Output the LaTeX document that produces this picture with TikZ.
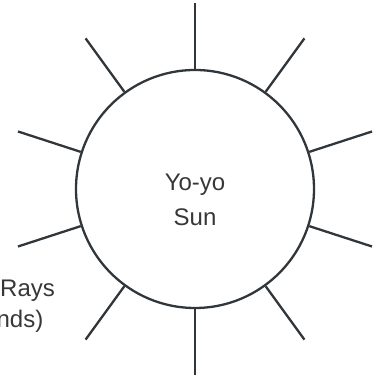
\documentclass[tikz,border=0pt]{standalone}
\usepackage{fontspec}
\setmainfont{Liberation Sans}
\definecolor{inkline}{RGB}{48,54,58}
\definecolor{inktext}{RGB}{55,55,55}
\tikzset{
  sunbody/.style={circle, draw=inkline, line width=2.3pt, minimum size=238pt, inner sep=0pt},
  ray/.style={draw=inkline, line width=2.3pt},
  handtext/.style={text=inktext, inner sep=0pt, font=\fontsize{24}{35}\selectfont}
}
\begin{document}
\begin{tikzpicture}[x=1pt,y=1pt]
\useasboundingbox (0,0) rectangle (381,379);
\clip (0,0) rectangle (381,379);
\node[sunbody] (sun) at (195,190) {};
\foreach \a in {90,126,162,198,234,270,306,342,18,54}{
  \draw[ray] (sun.\a) -- ++(\a:66pt);
}
\node[handtext, align=center] (sunlabel) at ([yshift=-11pt]sun.center) {Yo-yo\\Sun};
\node[handtext, anchor=base west] (rays) at (0,82) {Rays};
\node[handtext, anchor=base east] (nds) at (43.5,51) {nds)};
\end{tikzpicture}
\end{document}
